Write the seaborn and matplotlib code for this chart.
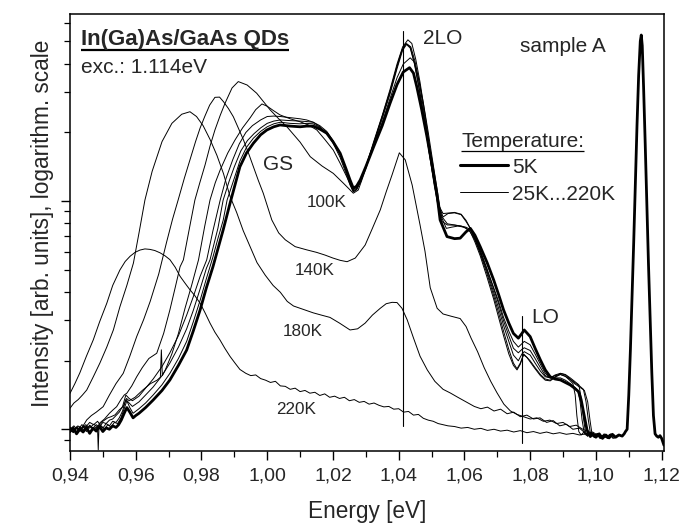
import numpy as np
import matplotlib
matplotlib.use("Agg")
import matplotlib.pyplot as plt
import seaborn as sns
from matplotlib.ticker import FuncFormatter, MultipleLocator, LogLocator, NullFormatter

# photon energy [eV] and log10 of PL intensity (arb. units)
e_5k = [0.9400, 0.9410, 0.9420, 0.9430, 0.9440, 0.9450, 0.9460, 0.9470, 0.9480, 0.9490,
        0.9500, 0.9510, 0.9520, 0.9530, 0.9540, 0.9548,
        0.9556, 0.9565, 0.9573, 0.9582, 0.9592, 0.9600, 0.9610, 0.9630, 0.9653, 0.9680,
        0.9704, 0.9730, 0.9755, 0.9775, 0.9796, 0.9815, 0.9835, 0.9850, 0.9866, 0.9887,
        0.9900, 0.9917, 0.9937, 0.9958, 0.9980, 0.9999, 1.0020, 1.0039, 1.0070, 1.0100,
        1.0120, 1.0140, 1.0160, 1.0181, 1.0200, 1.0222, 1.0240, 1.0252, 1.0262, 1.0272,
        1.0283, 1.0300, 1.0324, 1.0350, 1.0374, 1.0395, 1.0414, 1.0433, 1.0445, 1.0455,
        1.0470, 1.0486, 1.0500, 1.0516, 1.0526, 1.0547, 1.0570, 1.0587, 1.0605, 1.0618,
        1.0632, 1.0648, 1.0669, 1.0689, 1.0704, 1.0719, 1.0735, 1.0749, 1.0764, 1.0775,
        1.0782, 1.0800, 1.0815, 1.0831, 1.0846, 1.0861, 1.0876, 1.0892, 1.0907, 1.0922,
        1.0935, 1.0947, 1.0955, 1.0963, 1.0973, 1.0983, 1.0990, 1.1000, 1.1010, 1.1020,
        1.1030, 1.1040, 1.1050, 1.1060, 1.1070, 1.1080, 1.1086, 1.1090, 1.1095, 1.1100,
        1.1105, 1.1110, 1.1115, 1.1120, 1.1125, 1.1130, 1.1135, 1.1138, 1.1141, 1.1145,
        1.1150, 1.1155, 1.1160, 1.1165, 1.1170, 1.1175, 1.1180, 1.1185, 1.1190, 1.1195,
        1.1200, 1.1207]
lg_5k = [-0.01, 0.005, -0.02, 0.0, -0.012, 0.008, -0.018, 0.004, -0.008, 0.012,
         -0.01, 0.006, 0.0, 0.015, 0.008, 0.02,
         0.04, 0.07, 0.095, 0.075, 0.05, 0.06, 0.07, 0.095, 0.128, 0.17,
         0.216, 0.28, 0.347, 0.43, 0.523, 0.62, 0.712, 0.79, 0.873, 0.99,
         1.06, 1.15, 1.21, 1.253, 1.29, 1.311, 1.325, 1.333, 1.328, 1.325,
         1.328, 1.328, 1.315, 1.297, 1.26, 1.209, 1.14, 1.092, 1.056, 1.065,
         1.092, 1.15, 1.238, 1.33, 1.429, 1.51, 1.565, 1.584, 1.56, 1.501,
         1.40, 1.282, 1.17, 1.034, 0.917, 0.844, 0.835, 0.837, 0.865, 0.880,
         0.85, 0.800, 0.73, 0.654, 0.59, 0.523, 0.465, 0.420, 0.399, 0.42,
         0.435, 0.406, 0.355, 0.304, 0.26, 0.230, 0.22, 0.216, 0.205, 0.194,
         0.18, 0.165, 0.13, 0.070, -0.003, -0.032, -0.02, -0.035, -0.02, -0.04,
         -0.025, -0.038, -0.022, -0.035, -0.025, -0.03, -0.02, -0.01, 0.0, 0.15,
         0.35, 0.58, 0.82, 1.08, 1.33, 1.55, 1.70, 1.727, 1.68, 1.50,
         1.25, 0.98, 0.72, 0.48, 0.25, 0.06, -0.02, -0.03, -0.035, -0.028,
         -0.04, -0.07]

e_25k = [0.9400, 0.9410, 0.9420, 0.9430, 0.9440, 0.9450, 0.9460, 0.9470, 0.9480, 0.9484,
         0.9486, 0.9488, 0.9495, 0.9505, 0.9515, 0.9525, 0.9535, 0.9545, 0.9555, 0.9565,
         0.9573, 0.9582, 0.9592, 0.9610, 0.9630, 0.9653, 0.9680, 0.9704, 0.9730, 0.9755,
         0.9775, 0.9796, 0.9815, 0.9835, 0.9850, 0.9866, 0.9878, 0.9900, 0.9917, 0.9937,
         0.9958, 0.9980, 1.0000, 1.0020, 1.0040, 1.0070, 1.0100, 1.0120, 1.0140, 1.0160,
         1.0181, 1.0200, 1.0222, 1.0240, 1.0252, 1.0262, 1.0272, 1.0283, 1.0300, 1.0324,
         1.0350, 1.0374, 1.0395, 1.0414, 1.0435, 1.0447, 1.0460, 1.0475, 1.0490, 1.0505,
         1.0518, 1.0530, 1.0545, 1.0560, 1.0580, 1.0600, 1.0615, 1.0632, 1.0648, 1.0669,
         1.0689, 1.0704, 1.0719, 1.0735, 1.0749, 1.0764, 1.0775, 1.0782, 1.0800, 1.0815,
         1.0831, 1.0846, 1.0861, 1.0876, 1.0892, 1.0907, 1.0922, 1.0935, 1.0945, 1.0952,
         1.0958, 1.0965, 1.0975, 1.0985, 1.0995, 1.1005, 1.1015, 1.1025, 1.1035, 1.1045,
         1.1055, 1.1065]
lg_25k = [0.0, -0.015, 0.01, -0.005, 0.012, -0.01, 0.015, 0.0, 0.01, 0.0,
          -0.09, 0.0, 0.015, 0.0, 0.02, 0.01, 0.03, 0.025, 0.05, 0.09,
          0.125, 0.095, 0.07, 0.09, 0.115, 0.15, 0.195, 0.245, 0.31, 0.385,
          0.47, 0.565, 0.66, 0.755, 0.835, 0.915, 1.004, 1.10, 1.175, 1.235,
          1.275, 1.305, 1.325, 1.338, 1.345, 1.34, 1.338, 1.34, 1.338, 1.322,
          1.30, 1.26, 1.205, 1.135, 1.085, 1.05, 1.06, 1.09, 1.15, 1.245,
          1.345, 1.45, 1.54, 1.60, 1.627, 1.61, 1.54, 1.43, 1.30, 1.16,
          1.04, 0.93, 0.88, 0.885, 0.89, 0.885, 0.87, 0.83, 0.78, 0.70,
          0.62, 0.56, 0.49, 0.43, 0.385, 0.36, 0.375, 0.385, 0.37, 0.33,
          0.285, 0.245, 0.225, 0.225, 0.225, 0.215, 0.20, 0.185, 0.17, 0.12,
          0.04, -0.02, -0.03, -0.015, -0.035, -0.025, -0.04, -0.02, -0.035, -0.028,
          -0.04, -0.025]

e_50k = [0.9400, 0.9410, 0.9420, 0.9430, 0.9440, 0.9450, 0.9460, 0.9470, 0.9480, 0.9490,
         0.9500, 0.9510, 0.9520, 0.9530, 0.9540, 0.9550, 0.9560, 0.9570, 0.9580, 0.9590,
         0.9610, 0.9630, 0.9653, 0.9680, 0.9704, 0.9730, 0.9755, 0.9775, 0.9796, 0.9815,
         0.9826, 0.9850, 0.9866, 0.9885, 0.9900, 0.9920, 0.9940, 0.9960, 0.9980, 1.0000,
         1.0020, 1.0040, 1.0070, 1.0100, 1.0120, 1.0140, 1.0160, 1.0181, 1.0200, 1.0222,
         1.0240, 1.0252, 1.0262, 1.0272, 1.0283, 1.0300, 1.0324, 1.0350, 1.0374, 1.0395,
         1.0412, 1.0425, 1.0437, 1.0450, 1.0465, 1.0480, 1.0495, 1.0510, 1.0525, 1.0535,
         1.0550, 1.0570, 1.0590, 1.0605, 1.0618, 1.0632, 1.0648, 1.0669, 1.0689, 1.0704,
         1.0719, 1.0735, 1.0749, 1.0764, 1.0775, 1.0782, 1.0800, 1.0815, 1.0831, 1.0846,
         1.0861, 1.0876, 1.0892, 1.0907, 1.0922, 1.0935, 1.0950, 1.0965, 1.0975, 1.0982,
         1.0988, 1.0995, 1.1005, 1.1015, 1.1025, 1.1035, 1.1045, 1.1055]
lg_50k = [-0.015, 0.005, -0.01, 0.012, -0.005, 0.01, -0.012, 0.008, 0.0, 0.02,
          0.005, 0.025, 0.015, 0.035, 0.03, 0.05, 0.08, 0.13, 0.115, 0.10,
          0.12, 0.15, 0.185, 0.235, 0.29, 0.36, 0.44, 0.52, 0.615, 0.705,
          0.742, 0.88, 1.004, 1.09, 1.15, 1.22, 1.265, 1.295, 1.32, 1.34,
          1.35, 1.355, 1.352, 1.35, 1.348, 1.345, 1.33, 1.305, 1.265, 1.205,
          1.135, 1.085, 1.045, 1.055, 1.085, 1.15, 1.25, 1.36, 1.47, 1.58,
          1.66, 1.688, 1.675, 1.61, 1.50, 1.36, 1.22, 1.08, 0.97, 0.93,
          0.945, 0.948, 0.94, 0.91, 0.88, 0.84, 0.785, 0.70, 0.615, 0.55,
          0.475, 0.41, 0.355, 0.335, 0.35, 0.357, 0.345, 0.31, 0.27, 0.235,
          0.225, 0.235, 0.24, 0.232, 0.218, 0.20, 0.185, 0.17, 0.12, 0.04,
          -0.02, -0.03, -0.018, -0.038, -0.025, -0.04, -0.02, -0.035]

e_75k = [0.9400, 0.9410, 0.9420, 0.9430, 0.9440, 0.9450, 0.9460, 0.9470, 0.9480, 0.9490,
         0.9500, 0.9510, 0.9520, 0.9530, 0.9540, 0.9550, 0.9560, 0.9570, 0.9580, 0.9590,
         0.9610, 0.9630, 0.9653, 0.9680, 0.9704, 0.9730, 0.9755, 0.9775, 0.9796, 0.9816,
         0.9835, 0.9857, 0.9875, 0.9895, 0.9915, 0.9935, 0.9955, 0.9980, 1.0000, 1.0020,
         1.0040, 1.0070, 1.0100, 1.0120, 1.0140, 1.0160, 1.0181, 1.0200, 1.0222, 1.0240,
         1.0252, 1.0262, 1.0272, 1.0283, 1.0300, 1.0324, 1.0350, 1.0374, 1.0395, 1.0410,
         1.0422, 1.0435, 1.0448, 1.0462, 1.0478, 1.0493, 1.0508, 1.0522, 1.0532, 1.0548,
         1.0570, 1.0590, 1.0605, 1.0618, 1.0632, 1.0648, 1.0669, 1.0689, 1.0704, 1.0719,
         1.0735, 1.0749, 1.0764, 1.0775, 1.0782, 1.0800, 1.0815, 1.0831, 1.0846, 1.0861,
         1.0876, 1.0892, 1.0907, 1.0922, 1.0935, 1.0950, 1.0962, 1.0970, 1.0977, 1.0983,
         1.0992, 1.1002, 1.1012, 1.1022, 1.1032, 1.1042, 1.1052]
lg_75k = [0.005, -0.012, 0.01, -0.008, 0.015, 0.0, 0.018, 0.005, 0.02, 0.01,
          0.03, 0.025, 0.04, 0.045, 0.06, 0.075, 0.10, 0.15, 0.135, 0.125,
          0.145, 0.18, 0.22, 0.275, 0.335, 0.41, 0.50, 0.58, 0.67, 0.742,
          0.87, 1.004, 1.10, 1.18, 1.25, 1.30, 1.33, 1.355, 1.37, 1.372,
          1.37, 1.365, 1.36, 1.355, 1.345, 1.325, 1.295, 1.255, 1.19, 1.12,
          1.07, 1.04, 1.05, 1.085, 1.15, 1.255, 1.37, 1.48, 1.59, 1.66,
          1.688, 1.67, 1.60, 1.49, 1.35, 1.21, 1.07, 0.96, 0.91, 0.895,
          0.894, 0.89, 0.885, 0.875, 0.835, 0.775, 0.69, 0.60, 0.53, 0.455,
          0.385, 0.325, 0.30, 0.33, 0.34, 0.325, 0.29, 0.255, 0.23, 0.225,
          0.238, 0.245, 0.238, 0.22, 0.205, 0.19, 0.175, 0.12, 0.04, -0.015,
          -0.03, -0.02, -0.04, -0.025, -0.035, -0.022, -0.04]

e_100k = [0.9400, 0.9412, 0.9424, 0.9436, 0.9448, 0.9460, 0.9472, 0.9484, 0.9491, 0.9500,
          0.9515, 0.9525, 0.9537, 0.9550, 0.9562, 0.9572, 0.9580, 0.9598, 0.9620, 0.9645,
          0.9665, 0.9675, 0.9678, 0.9681, 0.9690, 0.9710, 0.9730, 0.9750, 0.9770, 0.9791,
          0.9810, 0.9826, 0.9842, 0.9857, 0.9880, 0.9902, 0.9925, 0.9948, 0.9965, 0.9984,
          1.0000, 1.0020, 1.0039, 1.0070, 1.0100, 1.0125, 1.0151, 1.0175, 1.0201, 1.0222,
          1.0242, 1.0262, 1.0272, 1.0285, 1.0300, 1.0324, 1.0350, 1.0374, 1.0395, 1.0412,
          1.0428, 1.0440, 1.0452, 1.0465, 1.0480, 1.0495, 1.0510, 1.0522, 1.0535, 1.0550,
          1.0570, 1.0590, 1.0605, 1.0618, 1.0632, 1.0648, 1.0669, 1.0689, 1.0704, 1.0719,
          1.0735, 1.0749, 1.0760, 1.0770, 1.0780, 1.0790, 1.0800, 1.0815, 1.0831, 1.0846,
          1.0861, 1.0876, 1.0892, 1.0907, 1.0922, 1.0935, 1.0948, 1.0955, 1.0962, 1.0968,
          1.0975, 1.0985, 1.0995, 1.1005, 1.1015, 1.1025, 1.1035]
lg_100k = [0.0, 0.015, -0.005, 0.02, 0.01, 0.03, 0.02, 0.035, 0.02, 0.035,
           0.05, 0.055, 0.063, 0.085, 0.10, 0.135, 0.125, 0.14, 0.17, 0.20,
           0.215, 0.228, 0.348, 0.235, 0.26, 0.33, 0.42, 0.53, 0.63, 0.742,
           0.89, 1.004, 1.08, 1.136, 1.21, 1.267, 1.32, 1.364, 1.40, 1.425,
           1.415, 1.395, 1.377, 1.36, 1.347, 1.333, 1.311, 1.27, 1.223, 1.165,
           1.106, 1.041, 1.05, 1.085, 1.15, 1.26, 1.375, 1.49, 1.60, 1.675,
           1.706, 1.69, 1.62, 1.52, 1.38, 1.23, 1.09, 0.98, 0.945, 0.947,
           0.95, 0.942, 0.915, 0.88, 0.83, 0.77, 0.68, 0.585, 0.51, 0.43,
           0.35, 0.29, 0.265, 0.29, 0.326, 0.315, 0.30, 0.27, 0.24, 0.22,
           0.215, 0.23, 0.245, 0.24, 0.225, 0.21, 0.195, 0.14, 0.05, -0.01,
           -0.025, -0.015, -0.035, -0.02, -0.04, -0.028, -0.04]

e_120k = [0.9400, 0.9412, 0.9424, 0.9436, 0.9448, 0.9460, 0.9472, 0.9484, 0.9491, 0.9505,
          0.9520, 0.9531, 0.9542, 0.9555, 0.9565, 0.9573, 0.9588, 0.9603, 0.9620, 0.9640,
          0.9664, 0.9685, 0.9704, 0.9720, 0.9735, 0.9745, 0.9762, 0.9780, 0.9795, 0.9811,
          0.9826, 0.9841, 0.9857, 0.9872, 0.9893, 0.9912, 0.9939, 0.9968, 1.0009, 1.0035,
          1.0060, 1.0100, 1.0131, 1.0167, 1.0201, 1.0231, 1.0262, 1.0277, 1.0300, 1.0324,
          1.0350, 1.0374, 1.0395, 1.0410, 1.0422, 1.0435, 1.0448, 1.0462, 1.0478, 1.0493,
          1.0508, 1.0520, 1.0532, 1.0548, 1.0570, 1.0590, 1.0605, 1.0618, 1.0632, 1.0648,
          1.0669, 1.0689, 1.0704, 1.0719, 1.0735, 1.0749, 1.0760, 1.0770, 1.0780, 1.0790,
          1.0800, 1.0815, 1.0831, 1.0846, 1.0861, 1.0876, 1.0892, 1.0907, 1.0920, 1.0930,
          1.0937, 1.0942, 1.0948, 1.0955, 1.0965, 1.0975, 1.0985, 1.0995, 1.1005]
lg_120k = [0.01, -0.008, 0.015, 0.0, 0.02, 0.005, 0.022, 0.01, 0.028, 0.045,
           0.07, 0.085, 0.099, 0.13, 0.15, 0.158, 0.19, 0.23, 0.27, 0.31,
           0.333, 0.42, 0.523, 0.62, 0.712, 0.742, 0.87, 1.004, 1.08, 1.158,
           1.24, 1.311, 1.375, 1.429, 1.495, 1.523, 1.508, 1.472, 1.399, 1.36,
           1.325, 1.258, 1.194, 1.153, 1.121, 1.079, 1.034, 1.048, 1.14, 1.25,
           1.37, 1.48, 1.59, 1.66, 1.69, 1.675, 1.605, 1.50, 1.36, 1.21,
           1.08, 0.98, 0.93, 0.90, 0.895, 0.89, 0.88, 0.865, 0.82, 0.76,
           0.665, 0.57, 0.49, 0.41, 0.33, 0.28, 0.26, 0.285, 0.33, 0.315,
           0.295, 0.265, 0.235, 0.215, 0.212, 0.228, 0.24, 0.232, 0.215, 0.20,
           0.15, 0.06, -0.01, -0.025, -0.01, -0.03, -0.02, -0.035, -0.025]

e_140k = [0.9400, 0.9410, 0.9420, 0.9430, 0.9440, 0.9451, 0.9465, 0.9480, 0.9501, 0.9520,
          0.9540, 0.9562, 0.9582, 0.9603, 0.9624, 0.9644, 0.9670, 0.9694, 0.9712, 0.9729,
          0.9748, 0.9765, 0.9782, 0.9796, 0.9810, 0.9825, 0.9841, 0.9855, 0.9867, 0.9882,
          0.9897, 0.9912, 0.9928, 0.9943, 0.9958, 0.9973, 0.9988, 1.0014, 1.0035, 1.0055,
          1.0085, 1.0120, 1.0150, 1.0176, 1.0200, 1.0222, 1.0243, 1.0268, 1.0298, 1.0320,
          1.0344, 1.0362, 1.0380, 1.0402, 1.0420, 1.0441, 1.0465, 1.0480, 1.0496, 1.0517,
          1.0535, 1.0560, 1.0587, 1.0605, 1.0620, 1.0640, 1.0660, 1.0680, 1.0699, 1.0720,
          1.0740, 1.0760, 1.0780, 1.0800, 1.0820, 1.0840, 1.0860, 1.0880, 1.0900, 1.0920,
          1.0940, 1.0960, 1.0980, 1.1000]
lg_140k = [0.0, -0.012, 0.008, -0.005, 0.015, 0.041, 0.06, 0.075, 0.099, 0.15,
           0.20, 0.245, 0.32, 0.406, 0.48, 0.56, 0.68, 0.82, 0.92, 1.004,
           1.10, 1.18, 1.26, 1.32, 1.37, 1.42, 1.454, 1.455, 1.435, 1.405,
           1.369, 1.32, 1.267, 1.21, 1.15, 1.09, 1.034, 0.917, 0.86, 0.83,
           0.80, 0.786, 0.775, 0.763, 0.75, 0.74, 0.734, 0.75, 0.807, 0.88,
           0.961, 1.04, 1.115, 1.211, 1.18, 1.07, 0.895, 0.78, 0.62, 0.53,
           0.505, 0.495, 0.485, 0.45, 0.40, 0.34, 0.27, 0.21, 0.16, 0.11,
           0.08, 0.065, 0.055, 0.045, 0.05, 0.035, 0.04, 0.025, 0.03, 0.012,
           0.018, 0.0, -0.012, -0.025]

e_180k = [0.9400, 0.9412, 0.9425, 0.9438, 0.9451, 0.9471, 0.9491, 0.9512, 0.9532, 0.9552,
          0.9573, 0.9593, 0.9610, 0.9628, 0.9650, 0.9680, 0.9710, 0.9740, 0.9765, 0.9785,
          0.9805, 0.9826, 0.9847, 0.9867, 0.9887, 0.9907, 0.9927, 0.9948, 0.9969, 0.9994,
          1.0018, 1.0040, 1.0061, 1.0080, 1.0100, 1.0120, 1.0140, 1.0165, 1.0191, 1.0220,
          1.0252, 1.0275, 1.0298, 1.0320, 1.0344, 1.0362, 1.0380, 1.0395, 1.0410, 1.0426,
          1.0445, 1.0465, 1.0487, 1.0510, 1.0535, 1.0557, 1.0580, 1.0605, 1.0630, 1.0650,
          1.0670, 1.0690, 1.0710, 1.0730, 1.0750, 1.0770, 1.0790, 1.0810, 1.0830, 1.0850,
          1.0870, 1.0890, 1.0910, 1.0930, 1.0950, 1.0970, 1.0990, 1.1010]
lg_180k = [0.092, 0.115, 0.13, 0.15, 0.172, 0.23, 0.29, 0.36, 0.435, 0.537,
           0.63, 0.728, 0.86, 1.004, 1.13, 1.26, 1.34, 1.38, 1.391, 1.37,
           1.33, 1.27, 1.20, 1.12, 1.02, 0.95, 0.87, 0.80, 0.73, 0.675,
           0.63, 0.60, 0.56, 0.54, 0.53, 0.52, 0.51, 0.50, 0.49, 0.465,
           0.435, 0.44, 0.465, 0.50, 0.53, 0.55, 0.556, 0.555, 0.53, 0.479,
           0.40, 0.32, 0.26, 0.21, 0.175, 0.159, 0.14, 0.12, 0.10, 0.09,
           0.097, 0.08, 0.088, 0.068, 0.075, 0.055, 0.062, 0.045, 0.05, 0.03,
           0.038, 0.015, 0.022, 0.0, 0.005, -0.02, -0.012, -0.03]

e_220k = [0.9400, 0.9415, 0.9430, 0.9450, 0.9471, 0.9490, 0.9512, 0.9530, 0.9552, 0.9568,
          0.9583, 0.9598, 0.9613, 0.9628, 0.9643, 0.9658, 0.9674, 0.9689, 0.9704, 0.9720,
          0.9735, 0.9750, 0.9765, 0.9780, 0.9796, 0.9811, 0.9826, 0.9841, 0.9856, 0.9871,
          0.9887, 0.9902, 0.9917, 0.9935, 0.9950, 0.9965, 0.9980, 0.9995, 1.0010, 1.0025,
          1.0040, 1.0055, 1.0070, 1.0085, 1.0100, 1.0115, 1.0130, 1.0145, 1.0160, 1.0175,
          1.0190, 1.0205, 1.0220, 1.0235, 1.0250, 1.0265, 1.0280, 1.0295, 1.0310, 1.0325,
          1.0340, 1.0355, 1.0370, 1.0385, 1.0400, 1.0415, 1.0430, 1.0445, 1.0460, 1.0475,
          1.0490, 1.0505, 1.0520, 1.0535, 1.0550, 1.0570, 1.0590, 1.0610, 1.0630, 1.0650,
          1.0670, 1.0690, 1.0710, 1.0730, 1.0750, 1.0770, 1.0790, 1.0810, 1.0830, 1.0850,
          1.0870, 1.0890, 1.0910, 1.0930, 1.0950, 1.0970, 1.0990, 1.1010, 1.1030, 1.1050]
lg_220k = [0.157, 0.20, 0.247, 0.32, 0.392, 0.47, 0.552, 0.63, 0.698, 0.735,
           0.758, 0.775, 0.785, 0.79, 0.788, 0.783, 0.773, 0.76, 0.743, 0.71,
           0.670, 0.64, 0.611, 0.585, 0.552, 0.51, 0.465, 0.425, 0.392, 0.355,
           0.319, 0.29, 0.262, 0.245, 0.235, 0.238, 0.222, 0.215, 0.205, 0.21,
           0.19, 0.188, 0.175, 0.18, 0.165, 0.17, 0.158, 0.162, 0.148, 0.155,
           0.14, 0.145, 0.135, 0.14, 0.125, 0.13, 0.118, 0.122, 0.11, 0.115,
           0.105, 0.098, 0.10, 0.088, 0.09, 0.075, 0.078, 0.062, 0.065, 0.048,
           0.04, 0.035, 0.025, 0.02, 0.015, 0.012, 0.005, 0.008, 0.0, 0.004,
           -0.005, 0.0, -0.008, -0.004, -0.012, -0.006, -0.015, -0.01, -0.018, -0.012,
           -0.02, -0.015, -0.022, -0.018, -0.025, -0.02, -0.03, -0.025, -0.035, -0.03]

thin_curves = [(e_25k, lg_25k), (e_50k, lg_50k), (e_75k, lg_75k), (e_100k, lg_100k),
               (e_120k, lg_120k), (e_140k, lg_140k), (e_180k, lg_180k), (e_220k, lg_220k)]

# phonon replica markers (eV) and their extent in log10 intensity
e_2lo, lg_2lo = 1.0413, (0.016, 1.745)
e_lo, lg_lo = 1.0775, (-0.059, 0.496)

sns.set_style("ticks")
plt.rcParams["font.family"] = ["Liberation Sans", "DejaVu Sans"]

fig = plt.figure(figsize=(6.8, 5.23), dpi=100)
ax = fig.add_axes([0.1029, 0.1382, 0.8735, 0.835])

for e, lg in thin_curves:
    sns.lineplot(x=e, y=10 ** np.array(lg), ax=ax, color="black", lw=0.7,
                 estimator=None, sort=False)
sns.lineplot(x=e_5k, y=10 ** np.array(lg_5k), ax=ax, color="black", lw=2.0,
             estimator=None, sort=False)

ax.plot([e_2lo, e_2lo], [10 ** lg_2lo[0], 10 ** lg_2lo[1]], color="black", lw=0.8)
ax.plot([e_lo, e_lo], [10 ** lg_lo[0], 10 ** lg_lo[1]], color="black", lw=0.8)

ax.set_yscale("log")
ax.set_xlim(0.94, 1.1207)
ax.set_ylim(10 ** -0.094, 10 ** 1.819)

ax.xaxis.set_major_locator(MultipleLocator(0.02))
ax.xaxis.set_minor_locator(MultipleLocator(0.01))
ax.xaxis.set_major_formatter(FuncFormatter(lambda v, p: f"{v:.2f}".replace(".", ",")))
ax.yaxis.set_major_locator(LogLocator(base=10))
ax.yaxis.set_minor_locator(LogLocator(base=10, subs=np.arange(2, 10)))
ax.yaxis.set_major_formatter(NullFormatter())
ax.yaxis.set_minor_formatter(NullFormatter())

ax.tick_params(which="both", direction="out", top=False, right=False, color="black")
ax.tick_params(which="major", length=6.5, width=1.0, labelsize=14, pad=5.5)
ax.tick_params(which="minor", length=4.0, width=0.9)
for sp in ax.spines.values():
    sp.set_linewidth(1.1)
    sp.set_color("black")

ax.set_xlabel("Energy [eV]", fontsize=16.3)
ax.set_ylabel("Intensity [arb. units], logarithm. scale", fontsize=16.3)
ax.xaxis.set_label_coords(0.5, -0.112)
ax.yaxis.set_label_coords(-0.027, 0.52)

tr = ax.transAxes
title = ax.text(0.018, 0.929, "In(Ga)As/GaAs QDs", transform=tr, fontsize=16,
                fontweight="bold", va="baseline")
ax.text(0.018, 0.864, "exc.: 1.114eV", transform=tr, fontsize=15, va="baseline")
ax.text(0.594, 0.932, "2LO", transform=tr, fontsize=15, va="baseline")
ax.text(0.758, 0.913, "sample A", transform=tr, fontsize=15, va="baseline")
temp = ax.text(0.659, 0.696, "Temperature:", transform=tr, fontsize=15, va="baseline")
ax.text(0.744, 0.635, "5K", transform=tr, fontsize=15, va="baseline")
ax.text(0.744, 0.574, "25K...220K", transform=tr, fontsize=15, va="baseline")
ax.text(0.325, 0.643, "GS", transform=tr, fontsize=15, va="baseline")
ax.text(0.777, 0.292, "LO", transform=tr, fontsize=15, va="baseline")
for label, (tx, ty) in {"100K": (0.399, 0.559), "140K": (0.379, 0.402),
                        "180K": (0.358, 0.263), "220K": (0.347, 0.084)}.items():
    ax.text(tx, ty, label, transform=tr, fontsize=12.3, va="baseline")

# legend sample lines
ax.plot([0.657, 0.737], [0.654, 0.654], transform=tr, color="black", lw=2.2)
ax.plot([0.657, 0.737], [0.593, 0.593], transform=tr, color="black", lw=0.7)

# underline the two headings
fig.canvas.draw()
renderer = fig.canvas.get_renderer()
for txt, ty, drop, lw in [(title, 0.929, 0.0115, 1.6), (temp, 0.696, 0.0092, 0.9)]:
    bb = txt.get_window_extent(renderer).transformed(tr.inverted())
    ax.plot([bb.x0, bb.x1], [ty - drop, ty - drop], transform=tr, color="black",
            lw=lw, solid_capstyle="butt")

fig.savefig("out.png", dpi=100)
